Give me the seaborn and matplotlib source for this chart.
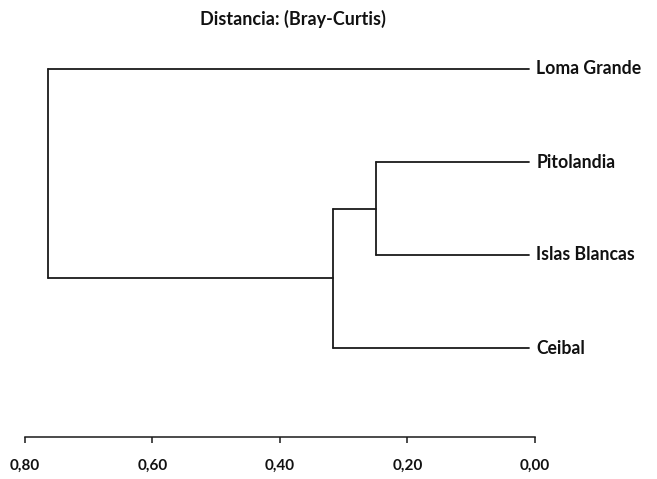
import matplotlib
matplotlib.use("Agg")
import matplotlib.pyplot as plt
import seaborn as sns
import pandas as pd

# ---- data ----
leaves = ["Loma Grande", "Pitolandia", "Islas Blancas", "Ceibal"]
# merges: (left child, right child, distance); children are leaf indices or "c<k>" cluster ids
merge_left = [1, "c0", 0]
merge_right = [2, 3, "c1"]
merge_height = [0.25, 0.317, 0.764]
tick_values = [0.80, 0.60, 0.40, 0.20, 0.00]
tick_labels = ["0,80", "0,60", "0,40", "0,20", "0,00"]
title = "Distancia: (Bray-Curtis)"

sns.set_theme(style="white")
plt.rcParams["font.family"] = ["Lato", "DejaVu Sans"]

LEAF_END = 0.009
LINE_COLOR = "#1a1a1a"

# build segments from the merge list
pos = {i: (LEAF_END, float(i)) for i in range(len(leaves))}  # (x, y)
rows = []
seg = 0
def add(x0, y0, x1, y1):
    global seg
    rows.append({"x": x0, "y": y0, "seg": seg, "o": 0})
    rows.append({"x": x1, "y": y1, "seg": seg, "o": 1})
    seg += 1

for k, (a, b, h) in enumerate(zip(merge_left, merge_right, merge_height)):
    xa, ya = pos[a]
    xb, yb = pos[b]
    add(xa, ya, h, ya)
    add(xb, yb, h, yb)
    add(h, ya, h, yb)
    pos[f"c{k}"] = (h, (ya + yb) / 2)

df = pd.DataFrame(rows)

fig = plt.figure(figsize=(6.57, 4.79), dpi=100)
W, H = 657, 479
left, right = 25, 535
top_px, bot_px = 50, 437
ax = fig.add_axes([left / W, 1 - bot_px / H, (right - left) / W, (bot_px - top_px) / H])

sns.lineplot(data=df, x="x", y="y", units="seg", estimator=None, sort=False,
             color=LINE_COLOR, linewidth=1.3, ax=ax, legend=False)

ax.set_xlim(0.80, 0.0)
y0 = 69
step = 93
ax.set_ylim((bot_px - y0) / step, (top_px - y0) / step)

for i, name in enumerate(leaves):
    ax.annotate(name, xy=(0.0, i), xytext=(1.0, 0), textcoords="offset points",
                ha="left", va="center", fontsize=12.7, fontweight="bold",
                color="#111111", annotation_clip=False)

for s in ["top", "left", "right"]:
    ax.spines[s].set_visible(False)
ax.spines["bottom"].set_color(LINE_COLOR)
ax.spines["bottom"].set_linewidth(1.1)
ax.set_yticks([])
ax.set_xticks(tick_values)
ax.set_xticklabels(tick_labels, fontsize=11, fontweight="bold", color="#111111")
ax.tick_params(axis="x", direction="out", length=4.5, width=1.1, color=LINE_COLOR,
               pad=11, bottom=True)
ax.set_xlabel("")
ax.set_ylabel("")

fig.text(293 / W, 1 - 19 / H, title, ha="center", va="center",
         fontsize=13, fontweight="bold", color="#111111")

fig.savefig("out.png", dpi=100)
